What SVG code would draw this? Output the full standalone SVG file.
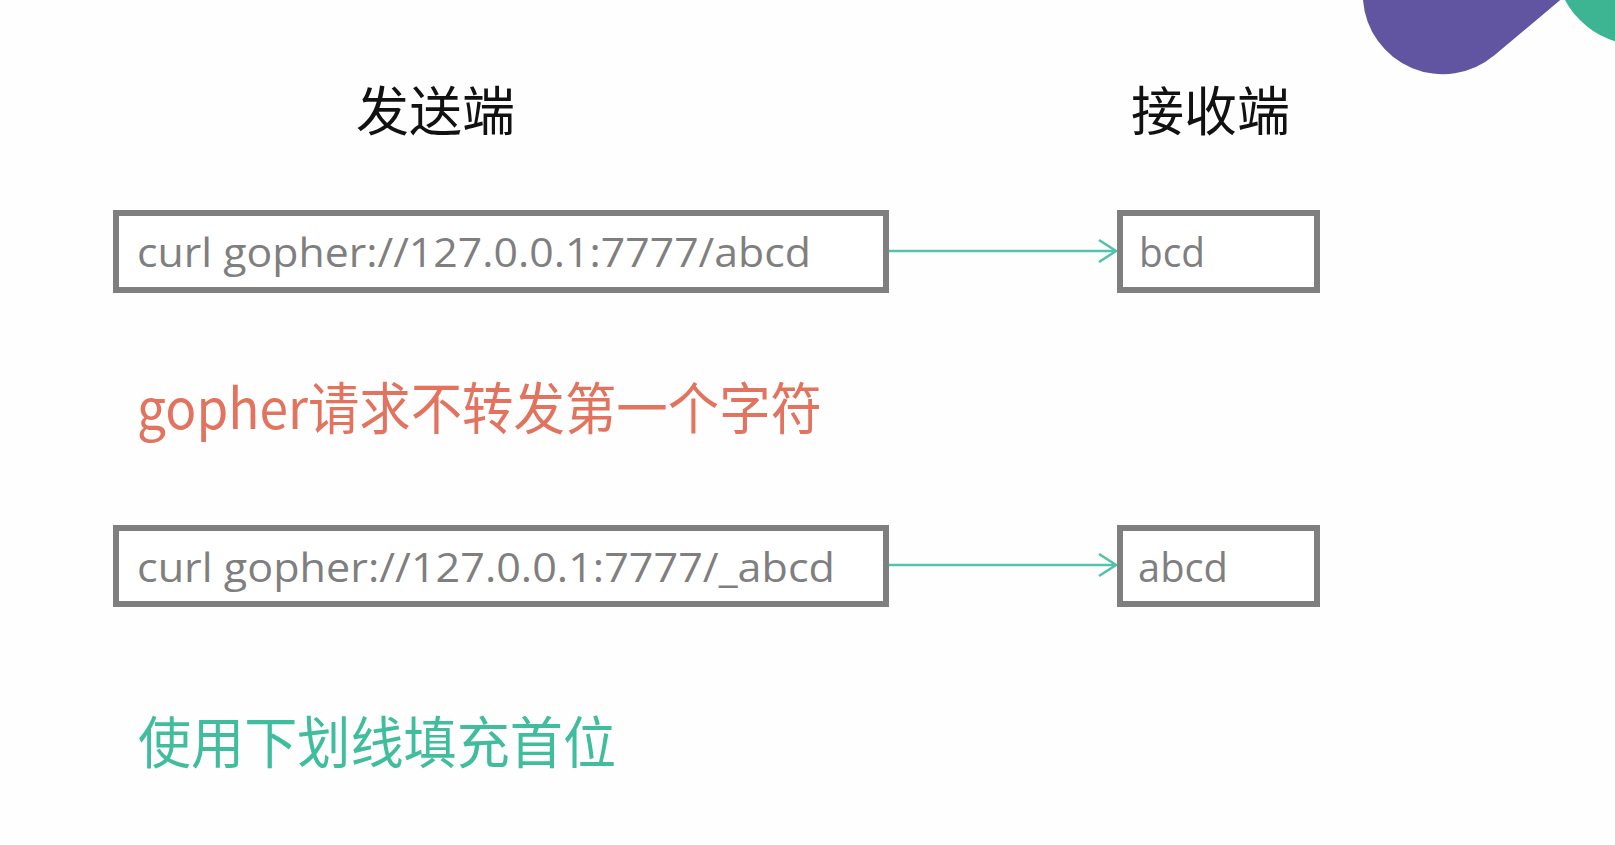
<svg xmlns="http://www.w3.org/2000/svg" width="1615" height="845" viewBox="0 0 1615 845">
<defs>
<style>
.box{fill:#fff;stroke:#7f7f7f;stroke-width:6}
.mono{font-family:"Open Sans","Liberation Sans",sans-serif;font-size:41px;fill:#7f7f7f}
.head{font-family:"Noto Sans CJK SC","Noto Sans",sans-serif;font-size:53px;fill:#111}
.note{font-family:"Noto Sans CJK SC","Noto Sans",sans-serif;font-size:56px}
.conn{stroke:#52c3a8;stroke-width:2.5;fill:none}
</style>
<marker id="arr" viewBox="0 0 20 24" refX="18" refY="12" markerWidth="20" markerHeight="24" markerUnits="userSpaceOnUse" orient="auto">
<path d="M1 1 L18 12 L1 23" fill="none" stroke="#52c3a8" stroke-width="2.5"/>
</marker>
</defs>
<rect width="1615" height="845" fill="#fefefe"/>
<g id="decor">
<path d="M1363 -4 L1363 0 A80 80 0 0 0 1494.4 55.3 L1565 -4 Z" fill="#6155a2"/>
<circle cx="1640" cy="-40" r="85" fill="#3db592"/>
</g>
<g id="titles">
<text class="head" x="356" y="131">发送端</text>
<text class="head" x="1131" y="131">接收端</text>
</g>
<g id="connectors">
<line class="conn" x1="889" y1="251" x2="1116" y2="251" marker-end="url(#arr)"/>
<line class="conn" x1="889" y1="565" x2="1116" y2="565" marker-end="url(#arr)"/>
</g>
<g id="send1">
<rect class="box" x="116" y="213" width="770" height="77"/>
<text class="mono" x="137" y="267" textLength="674" lengthAdjust="spacingAndGlyphs">curl gopher://127.0.0.1:7777/abcd</text>
</g>
<g id="recv1">
<rect class="box" x="1120" y="213" width="197" height="77"/>
<text class="mono" x="1139" y="267" textLength="66" lengthAdjust="spacingAndGlyphs">bcd</text>
</g>
<g id="note1">
<text class="note" x="137" y="429" textLength="685" lengthAdjust="spacingAndGlyphs" fill="#e2735f">gopher请求不转发第一个字符</text>
</g>
<g id="send2">
<rect class="box" x="116" y="528" width="770" height="76"/>
<text class="mono" x="137" y="582" textLength="698" lengthAdjust="spacingAndGlyphs">curl gopher://127.0.0.1:7777/_abcd</text>
</g>
<g id="recv2">
<rect class="box" x="1120" y="528" width="197" height="76"/>
<text class="mono" x="1138" y="582" textLength="90" lengthAdjust="spacingAndGlyphs">abcd</text>
</g>
<g id="note2">
<text class="note" x="138" y="763" textLength="478" lengthAdjust="spacingAndGlyphs" fill="#40bd9c">使用下划线填充首位</text>
</g>
</svg>
